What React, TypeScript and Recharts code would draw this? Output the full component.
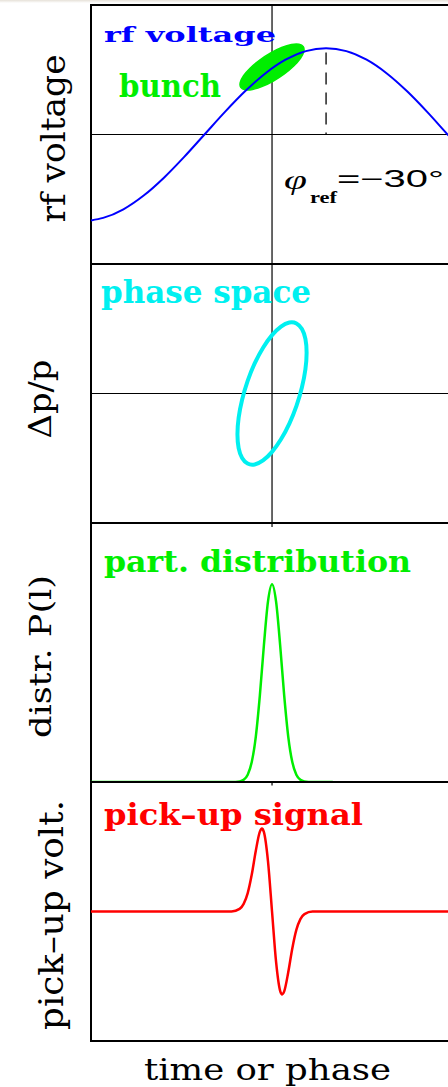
import React from 'react';
import { ComposedChart, Line, Scatter, XAxis, YAxis, ReferenceLine, ReferenceArea } from 'recharts';

// phase axis (degrees of rf phase)
const X_DOMAIN: [number, number] = [-84, 181];
const BUNCH_PHASE = 50;
const CREST_PHASE = 90;

// panel 1: rf voltage (normalised)
const rfVoltage = [
  { x: -84, y: -0.995 }, { x: -75, y: -0.966 }, { x: -60, y: -0.866 }, { x: -45, y: -0.707 },
  { x: -30, y: -0.5 }, { x: -15, y: -0.259 }, { x: 0, y: 0 }, { x: 15, y: 0.259 },
  { x: 30, y: 0.5 }, { x: 45, y: 0.707 }, { x: 60, y: 0.866 }, { x: 75, y: 0.966 },
  { x: 90, y: 1 }, { x: 105, y: 0.966 }, { x: 120, y: 0.866 }, { x: 135, y: 0.707 },
  { x: 150, y: 0.5 }, { x: 165, y: 0.259 }, { x: 180, y: 0 }, { x: 181, y: -0.017 },
];

// panel 1: bunch outline (filled)
const bunchOutline = [
  { x: 73.6, y: 1.022 }, { x: 74.0, y: 0.965 }, { x: 71.5, y: 0.885 }, { x: 66.4, y: 0.794 },
  { x: 59.3, y: 0.7 }, { x: 51.0, y: 0.616 }, { x: 42.7, y: 0.553 }, { x: 35.3, y: 0.517 },
  { x: 29.6, y: 0.513 }, { x: 26.4, y: 0.542 }, { x: 26.0, y: 0.599 }, { x: 28.5, y: 0.679 },
  { x: 33.6, y: 0.771 }, { x: 40.7, y: 0.864 }, { x: 49.0, y: 0.948 }, { x: 57.3, y: 1.012 },
  { x: 64.7, y: 1.048 }, { x: 70.4, y: 1.051 },
];

// panel 2: phase space ellipse (dp/p)
const phaseSpace = [
  { x: 75.9, y: 0.319 }, { x: 75.0, y: 0.426 }, { x: 72.4, y: 0.504 }, { x: 68.3, y: 0.547 },
  { x: 63.0, y: 0.554 }, { x: 56.7, y: 0.523 }, { x: 50.0, y: 0.456 }, { x: 43.3, y: 0.358 },
  { x: 37.0, y: 0.235 }, { x: 31.7, y: 0.097 }, { x: 27.6, y: -0.049 }, { x: 25.0, y: -0.19 },
  { x: 24.1, y: -0.319 }, { x: 25.0, y: -0.426 }, { x: 27.6, y: -0.504 }, { x: 31.7, y: -0.547 },
  { x: 37.0, y: -0.554 }, { x: 43.3, y: -0.523 }, { x: 50.0, y: -0.456 }, { x: 56.7, y: -0.358 },
  { x: 63.0, y: -0.235 }, { x: 68.3, y: -0.097 }, { x: 72.4, y: 0.049 }, { x: 75.0, y: 0.19 },
];

// panel 3: particle distribution
const distribution = [
  { x: -84, y: 0 }, { x: 20, y: 0 }, { x: 26, y: 0.003 }, { x: 29, y: 0.011 }, { x: 32, y: 0.037 },
  { x: 35, y: 0.101 }, { x: 38, y: 0.23 }, { x: 41, y: 0.438 }, { x: 44, y: 0.693 },
  { x: 47, y: 0.912 }, { x: 50, y: 1 }, { x: 53, y: 0.912 }, { x: 56, y: 0.693 },
  { x: 59, y: 0.438 }, { x: 62, y: 0.23 }, { x: 65, y: 0.101 }, { x: 68, y: 0.037 },
  { x: 71, y: 0.011 }, { x: 74, y: 0.003 }, { x: 80, y: 0 }, { x: 95, y: 0 },
];

// panel 4: pick-up signal
const pickup = [
  { x: -84, y: 0 }, { x: 20, y: 0 }, { x: 26, y: 0.03 }, { x: 29, y: 0.088 }, { x: 32, y: 0.213 },
  { x: 35, y: 0.428 }, { x: 38, y: 0.704 }, { x: 41, y: 0.925 }, { x: 42.5, y: 0.96 },
  { x: 44, y: 0.919 }, { x: 47, y: 0.584 }, { x: 50, y: 0 }, { x: 53, y: -0.584 },
  { x: 56, y: -0.919 }, { x: 57.5, y: -0.96 }, { x: 59, y: -0.925 }, { x: 62, y: -0.704 },
  { x: 65, y: -0.428 }, { x: 68, y: -0.213 }, { x: 71, y: -0.088 }, { x: 74, y: -0.03 },
  { x: 80, y: 0 }, { x: 181, y: 0 },
];

const Y1: [number, number] = [-1.5, 1.5];
const Y2: [number, number] = [-1, 1];
const Y3: [number, number] = [0, 1.31];
const Y4: [number, number] = [-1.5, 1.5];

const BLUE = '#0000ff';
const GREEN = '#00ee00';
const CYAN = '#00f0f0';
const RED = '#ff0000';

const CHART_W = 460;
const PANEL_H = 259;
const MARGIN = { top: 2, right: 11, bottom: 2, left: 91 };
const PANEL_TOPS = [5, 264, 523, 782];

const NoShape = () => <g />;

function frame(y: [number, number]) {
  return (
    <ReferenceArea
      x1={X_DOMAIN[0]}
      x2={X_DOMAIN[1]}
      y1={y[0]}
      y2={y[1]}
      fill="none"
      fillOpacity={0}
      stroke="#000"
      strokeWidth={2}
      strokeOpacity={1}
    />
  );
}

function axes(y: [number, number]) {
  return [
    <XAxis key="xa" type="number" dataKey="x" domain={X_DOMAIN} allowDataOverflow hide />,
    <YAxis key="ya" type="number" dataKey="y" domain={y} allowDataOverflow hide />,
  ];
}

const SLAB = '"DejaVu Serif", "Liberation Serif", serif';
const SERIF = '"Liberation Serif", "Times New Roman", serif';
const SANS = '"Liberation Sans", Arial, sans-serif';

export default function App() {
  const pos = (i: number): React.CSSProperties => ({ position: 'absolute', left: 0, top: PANEL_TOPS[i] - 2 });
  return (
    <div style={{ position: 'absolute', left: 0, top: 0, width: 448, height: 1087, overflow: 'hidden', background: '#fff' }}>
      <div style={{ position: 'absolute', left: 0, top: 0, width: 448, height: 3, background: 'linear-gradient(#e6e1d8, #ffffff)' }} />
      <div style={pos(0)}>
        <ComposedChart width={CHART_W} height={PANEL_H + 4} margin={MARGIN}>
          {axes(Y1)}
          {frame(Y1)}
          <ReferenceLine y={0} stroke="#000" strokeWidth={1.2} />
          <ReferenceLine x={BUNCH_PHASE} stroke="#000" strokeWidth={1.2} />
          <ReferenceLine
            segment={[{ x: CREST_PHASE, y: 0.95 }, { x: CREST_PHASE, y: 0 }]}
            stroke="#000"
            strokeWidth={1.3}
            strokeDasharray="12 8"
          />
          <Scatter
            data={bunchOutline}
            dataKey="y"
            shape={NoShape}
            line={{ stroke: GREEN, fill: GREEN, strokeWidth: 1.5 }}
            lineType="joint"
            lineJointType="basisClosed"
            isAnimationActive={false}
          />
          <Scatter
            data={rfVoltage}
            dataKey="y"
            shape={NoShape}
            line={{ stroke: BLUE, fill: 'none', strokeWidth: 2 }}
            lineType="joint"
            lineJointType="monotoneX"
            isAnimationActive={false}
          />
        </ComposedChart>
      </div>
      <div style={pos(1)}>
        <ComposedChart width={CHART_W} height={PANEL_H + 4} margin={MARGIN}>
          {axes(Y2)}
          {frame(Y2)}
          <ReferenceLine y={0} stroke="#000" strokeWidth={1.2} />
          <ReferenceLine x={BUNCH_PHASE} stroke="#000" strokeWidth={1.2} />
          <Scatter
            data={phaseSpace}
            dataKey="y"
            shape={NoShape}
            line={{ stroke: CYAN, fill: 'none', strokeWidth: 4 }}
            lineType="joint"
            lineJointType="basisClosed"
            isAnimationActive={false}
          />
        </ComposedChart>
      </div>
      <div style={pos(2)}>
        <ComposedChart width={CHART_W} height={PANEL_H + 4} margin={MARGIN}>
          {axes(Y3)}
          {frame(Y3)}
          <ReferenceLine segment={[{ x: BUNCH_PHASE, y: 1.31 }, { x: BUNCH_PHASE, y: 1.29 }]} stroke="#000" strokeWidth={1.2} />
          <Line
            data={distribution}
            dataKey="y"
            type="monotone"
            stroke={GREEN}
            strokeWidth={2.5}
            dot={false}
            activeDot={false}
            isAnimationActive={false}
          />
        </ComposedChart>
      </div>
      <div style={pos(3)}>
        <ComposedChart width={CHART_W} height={PANEL_H + 4} margin={MARGIN}>
          {axes(Y4)}
          {frame(Y4)}
          <ReferenceLine segment={[{ x: BUNCH_PHASE, y: 1.5 }, { x: BUNCH_PHASE, y: 1.46 }]} stroke="#000" strokeWidth={1.2} />
          <Line
            data={pickup}
            dataKey="y"
            type="monotone"
            stroke={RED}
            strokeWidth={2.5}
            dot={false}
            activeDot={false}
            isAnimationActive={false}
          />
        </ComposedChart>
      </div>
      <svg
        width={448}
        height={1087}
        style={{ position: 'absolute', left: 0, top: 0, pointerEvents: 'none' }}
      >
        {/* panel titles */}
        <text x={104} y={42} fontFamily={SLAB} fontWeight="bold" fontSize={21} fill={BLUE} textLength={172} lengthAdjust="spacingAndGlyphs">rf voltage</text>
        <text x={119} y={97} fontFamily={SLAB} fontWeight="bold" fontSize={31} fill={GREEN} textLength={102} lengthAdjust="spacingAndGlyphs">bunch</text>
        <text x={101} y={303} fontFamily={SLAB} fontWeight="bold" fontSize={31} fill={CYAN} textLength={210} lengthAdjust="spacingAndGlyphs">phase space</text>
        <text x={104} y={572} fontFamily={SLAB} fontWeight="bold" fontSize={30} fill={GREEN} textLength={307} lengthAdjust="spacingAndGlyphs">part. distribution</text>
        <text x={104} y={825} fontFamily={SLAB} fontWeight="bold" fontSize={29} fill={RED} textLength={259} lengthAdjust="spacingAndGlyphs">pick–up signal</text>
        {/* phi_ref label */}
        <text x={284} y={189} fontFamily={SERIF} fontStyle="italic" fontSize={28} fill="#000" textLength={23} lengthAdjust="spacingAndGlyphs">φ</text>
        <text x={310} y={203} fontFamily={SERIF} fontWeight="bold" fontSize={17} fill="#000" textLength={27} lengthAdjust="spacingAndGlyphs">ref</text>
        <text x={337} y={187} fontFamily={SANS} fontSize={23} fill="#000" textLength={107} lengthAdjust="spacingAndGlyphs">=−30°</text>
        {/* x axis label */}
        <text x={144} y={1080} fontFamily={SLAB} fontSize={30} fill="#000" textLength={247} lengthAdjust="spacingAndGlyphs">time or phase</text>
        {/* y axis labels */}
        <text x={65} y={138.5} transform="rotate(-90 65 138.5)" textAnchor="middle" fontFamily={SLAB} fontSize={33} fill="#000" textLength={168} lengthAdjust="spacingAndGlyphs">rf voltage</text>
        <text x={51} y={399} transform="rotate(-90 51 399)" textAnchor="middle" fontFamily={SLAB} fontSize={31} fill="#000" textLength={79} lengthAdjust="spacingAndGlyphs">Δp/p</text>
        <text x={51} y={656.5} transform="rotate(-90 51 656.5)" textAnchor="middle" fontFamily={SLAB} fontSize={29} fill="#000" textLength={163} lengthAdjust="spacingAndGlyphs">distr. P(l)</text>
        <text x={63} y={915} transform="rotate(-90 63 915)" textAnchor="middle" fontFamily={SLAB} fontSize={33} fill="#000" textLength={230} lengthAdjust="spacingAndGlyphs">pick–up volt.</text>
      </svg>
    </div>
  );
}
